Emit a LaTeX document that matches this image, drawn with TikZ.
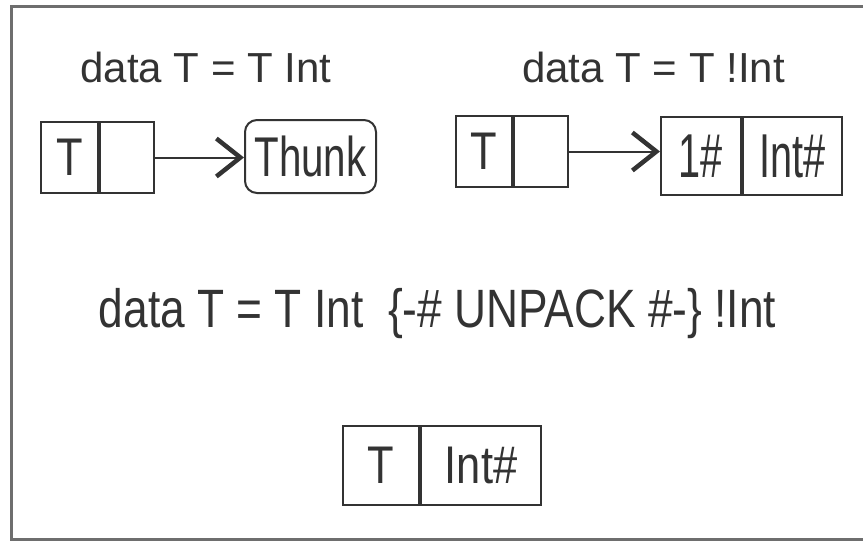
\documentclass[tikz,border=0pt]{standalone}
\usepackage{fontspec}
\setmainfont{Liberation Sans}
\newfontfamily\condfont[FakeStretch=0.82]{Liberation Sans}
\newfontfamily\thunkfont[FakeStretch=0.72]{Liberation Sans}
\newfontfamily\tightfont[FakeStretch=0.64]{Liberation Sans}
\usetikzlibrary{positioning, arrows.meta}
\definecolor{ink}{HTML}{333333}
\definecolor{framegray}{HTML}{6E6E6E}
\tikzset{>={Straight Barb[length=24pt,width=38pt,line width=4.5pt]}}
\tikzset{
   title/.style={anchor=base, inner sep=0, text=ink, font=\fontsize{42}{50}\selectfont},
   cell/.style={draw=ink, line width=2pt, inner sep=0, text=ink, minimum height=71,
      font=\condfont\fontsize{53}{60}\selectfont},
   ptr/.style={draw=ink, line width=2pt, ->},
}

\begin{document}
\begin{tikzpicture}[x=1pt, y=-1pt]
   \useasboundingbox (0,0) rectangle (863,542);
   \draw[framegray, line width=3pt] (866,6) -- (11,6) -- (11,539) -- (866,539);

   % lazy field
   \node[title] (t1) at (206,82) {data T = T Int};
   \node[cell, anchor=west, minimum width=57] (b1t) at (40,157.5) {T};
   \node[cell, minimum width=54, right=0pt of b1t] (b1p) {};
   \node[cell, anchor=west, rounded corners=12, minimum width=131, minimum height=73,
      font=\thunkfont\fontsize{56}{60}\selectfont] (thunk) at (244,156.5) {Thunk};
   \draw[ptr] (b1p.east) -- (b1p.east -| thunk.west);

   % strict field
   \node[title] (t2) at (653.5,82) {data T = T !Int};
   \node[cell, anchor=west, minimum width=56] (b2t) at (455,151.5) {T};
   \node[cell, minimum width=54, right=0pt of b2t] (b2p) {};
   \node[cell, anchor=west, minimum width=80, minimum height=78,
      font=\tightfont\fontsize{62}{66}\selectfont] (b3a) at (660,156) {1\#};
   \node[cell, minimum width=99, minimum height=78, right=0pt of b3a,
      font=\tightfont\fontsize{62}{66}\selectfont] (b3b) {Int\#};
   \draw[ptr] (b2p.east) -- (b2p.east -| b3a.west);

   % unpacked field
   \node[title, font=\condfont\fontsize{54}{60}\selectfont] (t3) at (437.5,327)
      {data T = T Int\ \ \{-\# UNPACK \#-\} !Int};
   \node[cell, anchor=west, minimum width=76, minimum height=79] (b4t) at (342,465.5) {T};
   \node[cell, minimum width=120, minimum height=79, right=0pt of b4t] (b4i) {Int\#};
\end{tikzpicture}
\end{document}
